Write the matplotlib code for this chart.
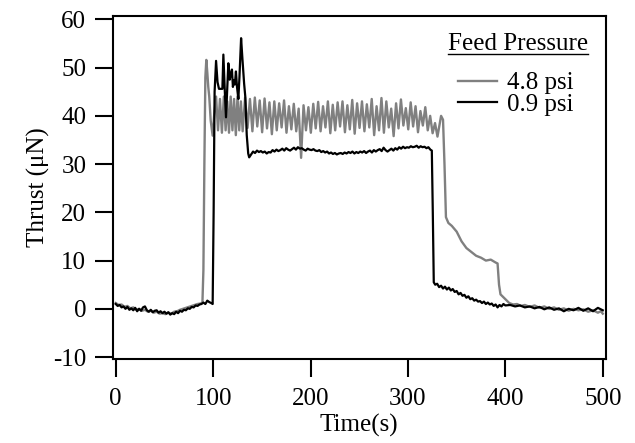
import matplotlib
matplotlib.use("Agg")
import matplotlib.pyplot as plt
from matplotlib.lines import Line2D

plt.rcParams['font.family'] = ['Liberation Serif', 'DejaVu Serif']
plt.rcParams['axes.unicode_minus'] = False

# 4.8 psi (grey)
gray_t = [0, 3, 6, 9, 12, 15, 18, 21, 24, 27, 30, 33, 36, 39, 42, 45, 48, 51, 54, 57,
          60, 63, 66, 69, 72, 75, 78, 81, 84, 87, 89, 90, 91, 92, 93, 94, 95, 96, 97.5, 99.5,
          101, 103, 105, 107, 109, 111, 112.8, 114.5, 116.3, 118, 119.8, 121.5, 123.3, 125, 126.8, 128.5, 130.3,
          132.8, 135.3, 137.8, 140.3, 142.8, 145.3, 147.8, 150.3, 152.8, 155.3, 157.8, 160.3,
          162.8, 165.3, 167.8, 170.3, 172.8, 175.3, 177.8, 180.3, 182.8, 185.3, 187.8, 190.3,
          192.8, 195.3, 197.8, 200.3, 202.8, 205.3, 207.8, 210.3, 212.8, 215.3, 217.8, 220.3,
          222.8, 225.3, 227.8, 230.3, 232.8, 235.3, 237.8, 240.3, 242.8, 245.3, 247.8, 250.3,
          252.8, 255.3, 257.8, 260.3, 262.8, 265.3, 267.8, 270.3, 272.8, 275.3, 277.8, 280.3,
          282.8, 285.3, 287.8, 290.3, 292.8, 295.3, 297.8, 300.3, 302.8, 305.3, 307.8, 310.3,
          312.8, 315.3, 317.8, 320.3, 322.8, 325.3, 327.8, 330.3,
          334, 336, 337.5, 339, 341.5, 345, 350, 355, 360, 365, 370, 375, 380, 385, 390, 392,
          393.5, 395, 398, 401, 404, 408, 412, 416, 420, 425, 430, 435, 440, 445, 450, 455,
          460, 465, 470, 475, 480, 485, 490, 495, 498, 500]
gray_v = [1.2, 0.8, 0.9, 0.4, 0.6, 0.1, 0.3, -0.2, 0.0, -0.4, -0.2, -0.6, -0.4, -0.8, -0.6, -1.0, -0.9, -1.1, -0.8, -1.0,
          -0.6, -0.5, -0.2, 0.0, 0.2, 0.4, 0.6, 0.8, 1.0, 1.1, 1.3, 8, 30, 48, 51.6, 49, 46, 44, 39, 35.9,
          40, 44, 37, 43.5, 36.5, 44, 37, 43, 36.5, 44, 37, 43.5, 36, 44, 37, 43, 36.8,
          43.8, 37.5, 43.5, 36.8, 43.8, 37.8, 43.2, 36.6, 43.6, 37.4, 42.8, 36.2,
          43.0, 37.0, 42.6, 37.6, 43.2, 36.5, 42.0, 37.2, 42.5, 36.8, 41.5, 31.3,
          42.2, 37.0, 41.8, 36.5, 42.5, 37.4, 42.9, 36.8, 42.0, 37.6, 43.0, 36.4,
          42.3, 37.0, 42.8, 37.8, 43.0, 36.6, 42.2, 37.2, 43.3, 36.3, 42.6, 37.5,
          43.0, 36.8, 42.4, 37.6, 43.5, 36.0, 42.0, 37.0, 43.7, 36.5, 43.0, 37.6,
          41.5, 35.8, 42.6, 37.4, 43.4, 38.0, 41.6, 37.2, 42.8, 37.8, 42.0, 36.6,
          41.0, 38.0, 41.8, 37.0, 40.0, 36.4, 38.5, 35.7,
          40.0, 39.2, 30, 19, 17.8, 17.2, 16.0, 14.0, 12.6, 11.8, 11.0, 10.6, 10.0, 10.2, 9.6, 9.4,
          5, 3.0, 2.4, 1.8, 1.2, 0.9, 1.0, 0.6, 0.8, 0.4, 0.7, 0.2, 0.5, 0.0, 0.3, -0.2,
          0.1, -0.4, 0.0, -0.3, -0.1, -0.6, -0.3, -0.8, -0.5, -1.0]

# 0.9 psi (black)
black_t = [0, 2, 4, 6, 8, 10, 12, 14, 16, 18, 20, 22, 24, 26, 28, 30, 32, 34, 36, 38,
           40, 42, 44, 46, 48, 50, 52, 54, 56, 58, 60, 62, 64, 66, 68, 70, 72, 74, 76, 78,
           80, 82, 84, 86, 88, 90, 92, 94, 96, 98, 99.5, 100.5, 101.5, 103, 104.5, 106, 109.5, 110.5,
           112, 113.2, 114.5, 115.6, 117, 118, 119.3, 120.3, 121.3, 122.3, 123.4, 124.5, 125.9, 127,
           128.7, 130, 131.8, 133, 134.5, 136, 137, 139, 141, 143, 145, 147, 149, 151, 153, 155,
           157, 159, 161, 163, 165, 167, 169, 171, 173, 175, 177, 179, 181, 183, 185, 187, 189,
           191, 193, 195, 197, 199, 201, 203, 205, 207, 209, 211, 213, 215, 217, 219, 221, 223,
           225, 227, 229, 231, 233, 235, 237, 239, 241, 243, 245, 247, 249, 251, 253, 255, 257,
           259, 261, 263, 265, 267, 269, 271, 273, 275, 277, 279, 281, 283, 285, 287, 289, 291,
           293, 295, 297, 299, 301, 303, 305, 307, 309, 311, 313, 315, 317, 319, 321, 323, 324.5,
           325.5, 326.5, 328, 330, 332, 334, 336, 338, 340, 342, 344, 346, 348, 350, 352, 354,
           356, 358, 360, 362, 364, 366, 368, 370, 372, 374, 376, 378, 380, 382, 384, 386, 388,
           390, 392, 394, 396, 398, 400, 405, 410, 415, 420, 425, 430, 435, 440, 445, 450, 455,
           460, 465, 470, 475, 480, 485, 490, 495, 500]
black_v = [1.0, 0.6, 0.8, 0.3, 0.5, 0.0, 0.4, -0.2, 0.1, -0.3, 0.2, -0.5, 0.0, -0.4, 0.3, 0.5, -0.3, -0.6, -0.2, -0.7,
           -0.4, -0.3, -0.8, -0.5, -0.9, -0.6, -1.0, -0.7, -1.2, -0.9, -1.1, -0.6, -0.9, -0.4, -0.6, -0.2, -0.3, 0.1, 0.0, 0.4,
           0.3, 0.7, 0.6, 0.9, 1.0, 1.3, 1.0, 1.7, 1.4, 1.2, 1.0, 20, 45, 51.4, 47, 45.6, 45.6, 52.7,
           45, 39.7, 46, 50.9, 47.5, 48.6, 49.6, 46, 47.4, 46.5, 49.2, 46, 43.5, 48,
           56.1, 52, 46.7, 44, 36, 32.2, 31.4, 32.0, 32.6, 32.3, 32.8, 32.5, 32.7, 32.4, 32.6, 32.2,
           32.5, 32.4, 32.9, 32.6, 33.0, 32.7, 32.9, 33.2, 32.8, 33.3, 33.0, 32.8, 33.1, 33.4, 33.0, 33.5, 33.2,
           33.3, 33.0, 32.8, 33.2, 33.0, 32.9, 33.1, 32.8, 32.7, 32.9, 32.5, 32.7, 32.4, 32.6, 32.2, 32.4, 32.1,
           32.3, 32.0, 32.2, 32.3, 32.1, 32.4, 32.2, 32.5, 32.3, 32.6, 32.2, 32.5, 32.3, 32.6, 32.4, 32.7, 32.3,
           32.6, 32.8, 32.4, 32.9, 32.6, 32.9, 33.1, 32.7, 33.4, 32.9, 32.6, 32.9, 33.2, 32.8, 33.3, 33.0, 33.5,
           33.2, 33.6, 33.3, 33.5, 33.4, 33.7, 33.5, 33.6, 33.8, 33.4, 33.7, 33.5, 33.6, 33.3, 33.5, 33.0, 32.8,
           20, 5.5, 5.0, 5.2, 4.5, 4.8, 4.2, 4.6, 4.0, 4.4, 3.8, 4.1, 3.5, 3.7, 3.0, 3.3,
           2.7, 2.9, 2.3, 2.6, 2.0, 2.2, 1.7, 1.9, 1.5, 1.6, 1.2, 1.5, 1.0, 1.3, 0.9, 1.1, 0.6,
           0.9, 0.3, 0.8, 0.5, 1.0, 0.7, 0.8, 0.5, 0.7, 0.3, 0.5, 0.1, 0.4, -0.1, 0.3, -0.2, 0.1,
           -0.5, 0.0, -0.3, 0.2, -0.4, 0.1, -0.5, 0.2, -0.3]

labels = ['4.8 psi', '0.9 psi']
legend_title = 'Feed Pressure'
x_ticks = [0, 100, 200, 300, 400, 500]
y_ticks = [-10, 0, 10, 20, 30, 40, 50, 60]

FS = 18

fig = plt.figure(figsize=(6.35, 4.43), dpi=100)
ax = fig.add_axes([0.1775, 0.1896, 0.7765, 0.7743])

ax.plot(gray_t, gray_v, color='#808080', lw=1.7, label=labels[0])
ax.plot(black_t, black_v, color='black', lw=1.6, label=labels[1])

ax.set_xlim(-3.1, 503.1)
ax.set_ylim(-10.4, 60.7)
ax.set_xticks(x_ticks)
ax.set_yticks(y_ticks)
ax.tick_params(direction='out', length=13, width=1.5, labelsize=FS)
ax.tick_params(axis='x', pad=8)
ax.tick_params(axis='y', pad=6)
for s in ax.spines.values():
    s.set_linewidth(1.5)

ax.set_xlabel('Time(s)', fontsize=FS, labelpad=3)
ax.set_ylabel('Thrust (μN)', fontsize=FS, labelpad=2)

# legend title (underlined) + entries
title = ax.text(0.822, 0.902, legend_title, transform=ax.transAxes, fontsize=FS,
                ha='center', va='baseline')
leg = ax.legend(loc='upper left', bbox_to_anchor=(0.70, 0.837), frameon=False,
                fontsize=FS, handlelength=1.55, handletextpad=0.4,
                labelspacing=-0.05, borderpad=0.0, borderaxespad=0.0)

fig.canvas.draw()
bb = title.get_window_extent()
fig.add_artist(Line2D([bb.x0, bb.x1], [bb.y0 + 1, bb.y0 + 1], color='black', lw=1.0,
                      transform=None))

fig.savefig('out.png', dpi=100)
